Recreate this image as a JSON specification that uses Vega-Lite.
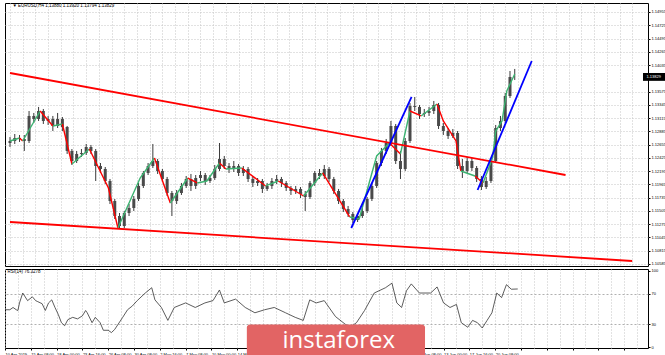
{
"$schema": "https://vega.github.io/schema/vega-lite/v6.json",
"background": "white",
"padding": {"left": 2, "top": 2, "right": 0, "bottom": 0},
"spacing": 1,
"config": {"view": {"stroke": "#000000", "strokeWidth": 1}, "font": "Liberation Sans", "axis": {"labelOverlap": false, "labelBound": false, "labelFlush": false, "tickCount": 1000}},
"datasets": {
"candles": [
{"b":0,"o":1.12683,"h":1.12787,"l":1.12614,"c":1.12718},{"b":3,"o":1.12718,"h":1.12839,"l":1.12666,"c":1.12770},{"b":6,"o":1.12770,"h":1.12822,"l":1.12701,"c":1.12753},{"b":9,"o":1.12753,"h":1.12822,"l":1.12545,"c":1.12718},{"b":12,"o":1.12718,"h":1.13238,"l":1.12683,"c":1.13152},{"b":15,"o":1.13152,"h":1.13204,"l":1.13030,"c":1.13100},{"b":18,"o":1.13100,"h":1.13308,"l":1.13065,"c":1.13238},{"b":21,"o":1.13238,"h":1.13273,"l":1.13013,"c":1.13065},{"b":24,"o":1.13065,"h":1.13152,"l":1.12996,"c":1.13100},{"b":27,"o":1.13100,"h":1.13152,"l":1.12891,"c":1.12978},{"b":30,"o":1.12978,"h":1.13204,"l":1.12943,"c":1.13100},{"b":33,"o":1.13100,"h":1.13134,"l":1.12891,"c":1.12961},{"b":36,"o":1.12961,"h":1.12978,"l":1.12493,"c":1.12545},{"b":39,"o":1.12545,"h":1.12579,"l":1.12302,"c":1.12371},{"b":42,"o":1.12371,"h":1.12545,"l":1.12336,"c":1.12493},{"b":45,"o":1.12493,"h":1.12579,"l":1.12441,"c":1.12510},{"b":48,"o":1.12510,"h":1.12666,"l":1.12475,"c":1.12614},{"b":51,"o":1.12614,"h":1.12649,"l":1.12493,"c":1.12545},{"b":54,"o":1.12545,"h":1.12579,"l":1.12024,"c":1.12284},{"b":57,"o":1.12284,"h":1.12336,"l":1.12163,"c":1.12232},{"b":60,"o":1.12232,"h":1.12267,"l":1.11972,"c":1.12024},{"b":63,"o":1.12024,"h":1.12059,"l":1.11625,"c":1.11677},{"b":66,"o":1.11677,"h":1.11712,"l":1.11365,"c":1.11417},{"b":69,"o":1.11417,"h":1.11469,"l":1.11192,"c":1.11244},{"b":72,"o":1.11244,"h":1.11504,"l":1.11209,"c":1.11469},{"b":75,"o":1.11469,"h":1.11625,"l":1.11417,"c":1.11556},{"b":78,"o":1.11556,"h":1.11764,"l":1.11504,"c":1.11712},{"b":81,"o":1.11712,"h":1.11990,"l":1.11677,"c":1.11938},{"b":84,"o":1.11938,"h":1.12198,"l":1.11903,"c":1.12163},{"b":87,"o":1.12163,"h":1.12336,"l":1.12128,"c":1.12284},{"b":90,"o":1.12284,"h":1.12666,"l":1.12250,"c":1.12371},{"b":93,"o":1.12371,"h":1.12406,"l":1.12146,"c":1.12198},{"b":96,"o":1.12198,"h":1.12232,"l":1.12007,"c":1.12059},{"b":99,"o":1.12059,"h":1.12094,"l":1.11764,"c":1.11816},{"b":102,"o":1.11816,"h":1.11851,"l":1.11417,"c":1.11677},{"b":105,"o":1.11677,"h":1.11868,"l":1.11625,"c":1.11816},{"b":108,"o":1.11816,"h":1.11990,"l":1.11782,"c":1.11938},{"b":111,"o":1.11938,"h":1.12111,"l":1.11903,"c":1.12059},{"b":114,"o":1.12059,"h":1.12146,"l":1.11851,"c":1.11938},{"b":117,"o":1.11938,"h":1.12128,"l":1.11886,"c":1.12076},{"b":120,"o":1.12076,"h":1.12198,"l":1.12024,"c":1.12128},{"b":123,"o":1.12128,"h":1.12163,"l":1.11955,"c":1.12024},{"b":126,"o":1.12024,"h":1.12128,"l":1.11990,"c":1.12076},{"b":129,"o":1.12076,"h":1.12302,"l":1.12042,"c":1.12232},{"b":132,"o":1.12232,"h":1.12683,"l":1.12198,"c":1.12406},{"b":135,"o":1.12406,"h":1.12458,"l":1.12232,"c":1.12284},{"b":138,"o":1.12284,"h":1.12336,"l":1.12163,"c":1.12232},{"b":141,"o":1.12232,"h":1.12371,"l":1.12180,"c":1.12284},{"b":144,"o":1.12284,"h":1.12319,"l":1.12111,"c":1.12163},{"b":147,"o":1.12163,"h":1.12284,"l":1.12111,"c":1.12232},{"b":150,"o":1.12232,"h":1.12267,"l":1.12007,"c":1.12059},{"b":153,"o":1.12059,"h":1.12111,"l":1.11920,"c":1.11990},{"b":156,"o":1.11990,"h":1.12076,"l":1.11938,"c":1.12024},{"b":159,"o":1.12024,"h":1.12059,"l":1.11816,"c":1.11886},{"b":162,"o":1.11886,"h":1.11990,"l":1.11851,"c":1.11938},{"b":165,"o":1.11938,"h":1.12076,"l":1.11886,"c":1.12024},{"b":168,"o":1.12024,"h":1.12128,"l":1.11972,"c":1.12059},{"b":171,"o":1.12059,"h":1.12094,"l":1.11920,"c":1.11990},{"b":174,"o":1.11990,"h":1.12024,"l":1.11851,"c":1.11903},{"b":177,"o":1.11903,"h":1.11938,"l":1.11782,"c":1.11851},{"b":180,"o":1.11851,"h":1.11938,"l":1.11799,"c":1.11886},{"b":183,"o":1.11886,"h":1.11920,"l":1.11729,"c":1.11799},{"b":186,"o":1.11799,"h":1.11851,"l":1.11504,"c":1.11747},{"b":189,"o":1.11747,"h":1.12024,"l":1.11712,"c":1.11990},{"b":192,"o":1.11990,"h":1.12198,"l":1.11938,"c":1.12163},{"b":195,"o":1.12163,"h":1.12232,"l":1.12059,"c":1.12111},{"b":198,"o":1.12111,"h":1.12302,"l":1.12059,"c":1.12232},{"b":201,"o":1.12232,"h":1.12267,"l":1.12007,"c":1.12059},{"b":204,"o":1.12059,"h":1.12094,"l":1.11799,"c":1.11851},{"b":207,"o":1.11851,"h":1.11886,"l":1.11625,"c":1.11677},{"b":210,"o":1.11677,"h":1.11712,"l":1.11487,"c":1.11539},{"b":213,"o":1.11539,"h":1.11591,"l":1.11400,"c":1.11452},{"b":216,"o":1.11452,"h":1.11487,"l":1.11296,"c":1.11348},{"b":219,"o":1.11348,"h":1.11469,"l":1.11313,"c":1.11417},{"b":222,"o":1.11417,"h":1.11556,"l":1.11383,"c":1.11504},{"b":225,"o":1.11504,"h":1.11747,"l":1.11469,"c":1.11712},{"b":228,"o":1.11712,"h":1.11990,"l":1.11677,"c":1.11938},{"b":231,"o":1.11938,"h":1.12371,"l":1.11903,"c":1.12336},{"b":234,"o":1.12336,"h":1.12597,"l":1.12284,"c":1.12545},{"b":237,"o":1.12545,"h":1.12753,"l":1.12493,"c":1.12683},{"b":240,"o":1.12683,"h":1.13065,"l":1.12631,"c":1.12978},{"b":243,"o":1.12978,"h":1.13013,"l":1.12319,"c":1.12371},{"b":246,"o":1.12371,"h":1.12545,"l":1.12059,"c":1.12232},{"b":249,"o":1.12232,"h":1.12770,"l":1.12198,"c":1.12718},{"b":252,"o":1.12718,"h":1.13377,"l":1.12683,"c":1.13325},{"b":255,"o":1.13325,"h":1.13481,"l":1.13238,"c":1.13308},{"b":258,"o":1.13308,"h":1.13342,"l":1.13100,"c":1.13186},{"b":261,"o":1.13186,"h":1.13273,"l":1.13134,"c":1.13204},{"b":264,"o":1.13204,"h":1.13308,"l":1.13152,"c":1.13238},{"b":267,"o":1.13238,"h":1.13412,"l":1.13186,"c":1.13342},{"b":270,"o":1.13342,"h":1.13377,"l":1.12926,"c":1.12978},{"b":273,"o":1.12978,"h":1.13030,"l":1.12822,"c":1.12891},{"b":276,"o":1.12891,"h":1.12943,"l":1.12753,"c":1.12805},{"b":279,"o":1.12805,"h":1.12926,"l":1.12770,"c":1.12857},{"b":282,"o":1.12857,"h":1.12891,"l":1.12232,"c":1.12284},{"b":285,"o":1.12284,"h":1.12406,"l":1.12076,"c":1.12198},{"b":288,"o":1.12198,"h":1.12441,"l":1.12163,"c":1.12371},{"b":291,"o":1.12371,"h":1.12423,"l":1.12198,"c":1.12250},{"b":294,"o":1.12250,"h":1.12284,"l":1.12007,"c":1.12059},{"b":297,"o":1.12059,"h":1.12111,"l":1.11868,"c":1.11920},{"b":300,"o":1.11920,"h":1.12094,"l":1.11886,"c":1.12024},{"b":303,"o":1.12024,"h":1.12423,"l":1.11990,"c":1.12371},{"b":306,"o":1.12371,"h":1.12996,"l":1.12336,"c":1.12943},{"b":309,"o":1.12943,"h":1.13152,"l":1.12891,"c":1.13065},{"b":312,"o":1.13065,"h":1.13550,"l":1.13030,"c":1.13498},{"b":315,"o":1.13498,"h":1.13932,"l":1.13464,"c":1.13828},{"b":318,"o":1.13828,"h":1.13967,"l":1.13776,"c":1.13829}
],
"ma": [
{"b":0,"m":1.12718,"s":1,"d":"up"},{"b":6,"m":1.12770,"s":1,"d":"up"},
{"b":6,"m":1.12770,"s":2,"d":"dn"},{"b":8,"m":1.12718,"s":2,"d":"dn"},
{"b":8,"m":1.12718,"s":3,"d":"up"},{"b":19,"m":1.13238,"s":3,"d":"up"},
{"b":19,"m":1.13238,"s":4,"d":"dn"},{"b":27,"m":1.12978,"s":4,"d":"dn"},
{"b":27,"m":1.12978,"s":5,"d":"up"},{"b":33,"m":1.13013,"s":5,"d":"up"},
{"b":33,"m":1.13013,"s":6,"d":"dn"},{"b":39,"m":1.12319,"s":6,"d":"dn"},
{"b":39,"m":1.12319,"s":7,"d":"up"},{"b":50,"m":1.12579,"s":7,"d":"up"},
{"b":50,"m":1.12579,"s":8,"d":"dn"},{"b":62,"m":1.11903,"s":8,"d":"dn"},{"b":68,"m":1.11209,"s":8,"d":"dn"},
{"b":68,"m":1.11209,"s":9,"d":"up"},{"b":82,"m":1.12076,"s":9,"d":"up"},{"b":91,"m":1.12423,"s":9,"d":"up"},
{"b":91,"m":1.12423,"s":10,"d":"dn"},{"b":101,"m":1.11643,"s":10,"d":"dn"},
{"b":101,"m":1.11643,"s":11,"d":"up"},{"b":112,"m":1.12076,"s":11,"d":"up"},
{"b":112,"m":1.12076,"s":12,"d":"dn"},{"b":118,"m":1.11990,"s":12,"d":"dn"},
{"b":118,"m":1.11990,"s":13,"d":"up"},{"b":124,"m":1.12024,"s":13,"d":"up"},{"b":132,"m":1.12336,"s":13,"d":"up"},
{"b":132,"m":1.12336,"s":14,"d":"dn"},{"b":136,"m":1.12232,"s":14,"d":"dn"},
{"b":136,"m":1.12232,"s":15,"d":"up"},{"b":146,"m":1.12250,"s":15,"d":"up"},
{"b":146,"m":1.12250,"s":16,"d":"dn"},{"b":161,"m":1.11938,"s":16,"d":"dn"},
{"b":161,"m":1.11938,"s":17,"d":"up"},{"b":169,"m":1.12024,"s":17,"d":"up"},
{"b":169,"m":1.12024,"s":18,"d":"dn"},{"b":185,"m":1.11764,"s":18,"d":"dn"},
{"b":185,"m":1.11764,"s":19,"d":"up"},{"b":197,"m":1.12163,"s":19,"d":"up"},
{"b":197,"m":1.12163,"s":20,"d":"dn"},{"b":214,"m":1.11400,"s":20,"d":"dn"},
{"b":214,"m":1.11400,"s":21,"d":"up"},{"b":220,"m":1.11365,"s":21,"d":"up"},{"b":231,"m":1.12458,"s":21,"d":"up"},{"b":239,"m":1.12683,"s":21,"d":"up"},
{"b":239,"m":1.12683,"s":22,"d":"dn"},{"b":246,"m":1.12493,"s":22,"d":"dn"},
{"b":246,"m":1.12493,"s":23,"d":"up"},{"b":252,"m":1.13238,"s":23,"d":"up"},
{"b":252,"m":1.13238,"s":24,"d":"dn"},{"b":259,"m":1.13152,"s":24,"d":"dn"},
{"b":259,"m":1.13152,"s":25,"d":"up"},{"b":269,"m":1.13360,"s":25,"d":"up"},
{"b":269,"m":1.13360,"s":26,"d":"dn"},{"b":273,"m":1.13065,"s":26,"d":"dn"},{"b":281,"m":1.12718,"s":26,"d":"dn"},{"b":284,"m":1.12198,"s":26,"d":"dn"},
{"b":284,"m":1.12198,"s":27,"d":"up"},{"b":293,"m":1.12111,"s":27,"d":"up"},
{"b":293,"m":1.12111,"s":28,"d":"dn"},{"b":298,"m":1.11990,"s":28,"d":"dn"},
{"b":298,"m":1.11990,"s":29,"d":"up"},{"b":304,"m":1.12423,"s":29,"d":"up"},{"b":306,"m":1.12891,"s":29,"d":"up"},{"b":310,"m":1.13065,"s":29,"d":"up"},{"b":313,"m":1.13585,"s":29,"d":"up"},{"b":318,"m":1.13880,"s":29,"d":"up"}
],
"trend": [
{"id":"upper","b":0,"p":1.13897,"col":"#ff0000"},{"id":"upper","b":350,"p":1.12128,"col":"#ff0000"},
{"id":"lower","b":0,"p":1.11313,"col":"#ff0000"},{"id":"lower","b":392,"p":1.10637,"col":"#ff0000"},
{"id":"blue1","b":215,"p":1.11209,"col":"#0000ff"},{"id":"blue1","b":253,"p":1.13481,"col":"#0000ff"},
{"id":"blue2","b":294.6,"p":1.11868,"col":"#0000ff"},{"id":"blue2","b":328.7,"p":1.14105,"col":"#0000ff"}
],
"rsi": [
{"b":0,"v":49},{"b":3,"v":49},{"b":5,"v":52},{"b":7,"v":49},{"b":8,"v":48},{"b":9,"v":58},{"b":11,"v":71},{"b":14,"v":61},{"b":17,"v":66},{"b":19,"v":61},{"b":20,"v":60},{"b":23,"v":57},{"b":25,"v":48},{"b":27,"v":58},{"b":29,"v":62},{"b":31,"v":52},{"b":33,"v":43},{"b":35,"v":32},{"b":37,"v":28},{"b":39,"v":36},{"b":42,"v":39},{"b":45,"v":37},{"b":48,"v":41},{"b":50,"v":48},{"b":51,"v":45},{"b":54,"v":32},{"b":56,"v":39},{"b":59,"v":32},{"b":61,"v":22},{"b":64,"v":22},{"b":66,"v":19},{"b":68,"v":23},{"b":73,"v":39},{"b":76,"v":49},{"b":79,"v":54},{"b":82,"v":61},{"b":87,"v":71},{"b":91,"v":78},{"b":93,"v":62},{"b":97,"v":52},{"b":101,"v":35},{"b":105,"v":52},{"b":112,"v":58},{"b":118,"v":52},{"b":124,"v":58},{"b":129,"v":61},{"b":133,"v":75},{"b":136,"v":58},{"b":143,"v":63},{"b":149,"v":52},{"b":155,"v":45},{"b":161,"v":49},{"b":167,"v":52},{"b":174,"v":45},{"b":180,"v":39},{"b":185,"v":35},{"b":189,"v":62},{"b":193,"v":58},{"b":198,"v":61},{"b":205,"v":40},{"b":211,"v":30},{"b":214,"v":26},{"b":218,"v":32},{"b":223,"v":48},{"b":229,"v":71},{"b":236,"v":78},{"b":240,"v":84},{"b":243,"v":58},{"b":246,"v":52},{"b":249,"v":74},{"b":252,"v":83},{"b":257,"v":71},{"b":264,"v":71},{"b":268,"v":79},{"b":272,"v":58},{"b":276,"v":52},{"b":280,"v":56},{"b":283,"v":32},{"b":287,"v":26},{"b":290,"v":35},{"b":293,"v":32},{"b":296,"v":25},{"b":299,"v":35},{"b":302,"v":45},{"b":305,"v":71},{"b":308,"v":65},{"b":311,"v":82},{"b":314,"v":76},{"b":318,"v":76.33}
]
},
"vconcat": [
{
"width": 643, "height": 263,
"encoding": {
"x": {"field": "b", "type": "quantitative", "scale": {"domain": [0, 398.8], "nice": false, "zero": false},
"axis": {"values": [0,8,16,24,32,40,48,56,64,72,80,88,96,104,112,120,128,136,144,152,160,168,176,184,192,200,208,216,224,232,240,248,256,264,272,280,288,296,304,312,320,328,336,344,352,360,368,376,384,392], "tickCount": 1000, "labels": false, "ticks": false, "domain": false, "grid": true, "gridColor": "#c4c4c4", "gridDash": [1,2], "title": null}}
},
"layer": [
{"data": {"name": "candles"}, "mark": {"type": "rule", "color": "#3a3a3a", "strokeWidth": 1},
"encoding": {"y": {"field": "l", "type": "quantitative", "scale": {"domain": [1.1055, 1.15111], "nice": false, "zero": false},
"axis": {"orient": "right", "values": [1.10585,1.10815,1.11045,1.11275,1.11505,1.11735,1.11965,1.12195,1.12425,1.12655,1.12885,1.13115,1.13345,1.13575,1.14035,1.14265,1.14495,1.14725,1.14955], "tickCount": 1000, "format": ".5f", "labelFontSize": 4, "labelColor": "#000", "labelPadding": 1, "labelOverlap": false, "labelBound": false, "labelFlush": false, "tickSize": 2, "tickColor": "#000", "domain": false, "grid": true, "gridColor": "#c4c4c4", "gridDash": [1,2], "title": null}},
"y2": {"field": "h"}}},
{"data": {"name": "candles"}, "mark": {"type": "bar", "size": 3, "color": "#4a4a4a"},
"encoding": {"y": {"field": "o", "type": "quantitative", "scale": {"domain": [1.1055, 1.15111], "nice": false, "zero": false}}, "y2": {"field": "c"}}},
{"data": {"name": "ma"}, "mark": {"type": "line", "strokeWidth": 1.4},
"encoding": {"y": {"field": "m", "type": "quantitative", "scale": {"domain": [1.1055, 1.15111], "nice": false, "zero": false}},
"detail": {"field": "s"},
"color": {"field": "d", "type": "nominal", "scale": {"domain": ["up","dn"], "range": ["#3cb371","#ff0000"]}, "legend": null}}},
{"data": {"name": "trend"}, "mark": {"type": "line", "strokeWidth": 1.8},
"encoding": {"y": {"field": "p", "type": "quantitative", "scale": {"domain": [1.1055, 1.15111], "nice": false, "zero": false}},
"detail": {"field": "id"},
"stroke": {"field": "col", "type": "nominal", "scale": null}}},
{"data": {"values": [{"b": 398.8, "b2": 416, "p": 1.13829}]},
"mark": {"type": "rect", "color": "#000000"},
"encoding": {"x": {"field": "b", "type": "quantitative"}, "x2": {"field": "b2"},
"y": {"datum": 1.13761, "type": "quantitative"}, "y2": {"datum": 1.13897}}},
{"data": {"values": [{"b": 401, "p": 1.13829, "t": "1.13829"}]},
"mark": {"type": "text", "color": "#ffffff", "fontSize": 4, "align": "left", "baseline": "middle"},
"encoding": {"x": {"field": "b", "type": "quantitative"}, "y": {"field": "p", "type": "quantitative"}, "text": {"field": "t"}}},
{"data": {"values": [{"b": 1.5, "p": 1.15059, "t": "▼ EURUSD,H4  1.13880 1.13920 1.13794 1.13829"}]},
"mark": {"type": "text", "color": "#000000", "fontSize": 4.5, "align": "left", "baseline": "middle"},
"encoding": {"x": {"field": "b", "type": "quantitative"}, "y": {"field": "p", "type": "quantitative"}, "text": {"field": "t"}}}
]
},
{
"width": 643, "height": 79,
"encoding": {
"x": {"field": "b", "type": "quantitative", "scale": {"domain": [0, 398.8], "nice": false, "zero": false},
"axis": {"values": [0,8,16,24,32,40,48,56,64,72,80,88,96,104,112,120,128,136,144,152,160,168,176,184,192,200,208,216,224,232,240,248,256,264,272,280,288,296,304,312,320,328,336,344,352,360,368,376,384,392], "tickCount": 1000,
"labelExpr": "(datum.value % 16 == 0 && datum.value <= 304 && (datum.value <= 144 || datum.value >= 256)) ? ['10 Apr 2019','15 Apr 08:00','18 Apr 00:00','23 Apr 16:00','26 Apr 08:00','30 Apr 08:00','2 May 16:00','7 May 08:00','10 May 00:00','14 May 16:00','17 May 08:00','22 May 00:00','24 May 16:00','29 May 08:00','3 Jun 00:00','5 Jun 16:00','10 Jun 08:00','13 Jun 00:00','17 Jun 16:00','20 Jun 08:00'][datum.value / 16] : ''",
"labelAlign": "left", "labelBaseline": "top", "labelFontSize": 4, "labelColor": "#000", "labelPadding": 2, "labelOverlap": false, "labelFlush": false, "labelBound": false,
"tickSize": 2, "tickColor": "#000", "tickOpacity": {"condition": {"test": "datum.value % 16 == 0", "value": 1}, "value": 0}, "domain": false, "grid": true, "gridColor": "#c4c4c4", "gridDash": [1,2], "title": null}}
},
"layer": [
{"data": {"name": "rsi"}, "mark": {"type": "line", "color": "#333333", "strokeWidth": 0.8},
"encoding": {"y": {"field": "v", "type": "quantitative", "scale": {"domain": [-1.3, 102.6], "nice": false, "zero": false},
"axis": {"orient": "right", "values": [0, 30, 70, 100], "tickCount": 1000, "format": "d", "labelFontSize": 4, "labelColor": "#000", "labelPadding": 1, "labelOverlap": false, "labelBound": false, "labelFlush": false, "tickSize": 2, "tickColor": "#000", "domain": false, "grid": true, "gridColor": "#b0b0b0", "gridDash": [2,2], "gridOpacity": {"condition": {"test": "datum.value == 30 || datum.value == 70", "value": 1}, "value": 0}, "title": null}}}},
{"data": {"values": [{"b": 1.5, "v": 99, "t": "RSI(14) 76.3278"}]},
"mark": {"type": "text", "color": "#000000", "fontSize": 4.5, "align": "left", "baseline": "middle"},
"encoding": {"y": {"field": "v", "type": "quantitative"}, "text": {"field": "t"}}},
{"data": {"values": [{"b": 150, "b2": 260.5, "v": 29.6, "v2": -16}]},
"mark": {"type": "rect", "color": "#e26464", "cornerRadius": 3},
"encoding": {"x2": {"field": "b2"}, "y": {"field": "v", "type": "quantitative"}, "y2": {"field": "v2"}}},
{"data": {"values": [{"b": 207, "v": 8, "t": "instaforex"}]},
"mark": {"type": "text", "color": "#ffffff", "fontSize": 24, "font": "Open Sans", "align": "center", "baseline": "middle"},
"encoding": {"y": {"field": "v", "type": "quantitative"}, "text": {"field": "t"}}}
]
}
]
}
